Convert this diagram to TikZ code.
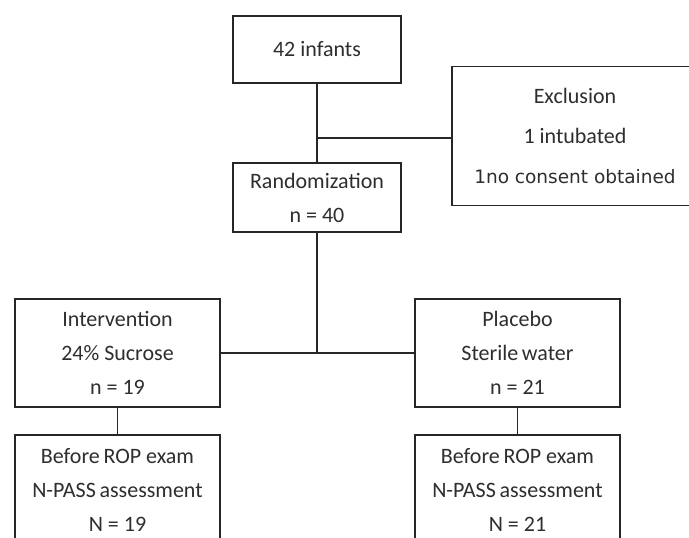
\documentclass[tikz,border=0pt]{standalone}
\usepackage{fontspec}
\setmainfont{Carlito}
\newfontfamily\dejavu{DejaVu Sans}
\usetikzlibrary{positioning}

\begin{document}
\begin{tikzpicture}
[x=1pt,y=-1pt,
  boxDecorate/.style={shape=rectangle,draw=black!85,line width=1.8pt,inner sep=0pt,
    align=center,text=black!82,font=\fontsize{22}{34}\selectfont},
  lineDecorate/.style={-,draw=black!85,line width=1.8pt}]
\useasboundingbox (0,0) rectangle (689,538);
\fill[white] (0,0) rectangle (689,538);
\clip (0,0) rectangle (689,538);
%% boxes
\node (infants) at (317,49.5) [boxDecorate,minimum width=168pt,minimum height=67pt] {42 infants};
\node (rand) at (317,197.5) [boxDecorate,minimum width=168pt,minimum height=69pt]
  {Randomization\\n = 40};
\node (excl) at (575,136) [boxDecorate,minimum width=246pt,minimum height=139pt,
  font=\fontsize{22}{40}\selectfont]
  {Exclusion\\1 intubated\\{\dejavu\fontsize{18.5}{40}\selectfont 1no consent obtained}};
\node (interv) at (117.5,353) [boxDecorate,minimum width=205pt,minimum height=108pt]
  {Intervention\\24\% Sucrose\\n = 19};
\node (placebo) at (517.5,353) [boxDecorate,minimum width=205pt,minimum height=108pt]
  {Placebo\\Sterile\,water\\n = 21};
\node (beforeA) at (117.5,490) [boxDecorate,minimum width=205pt,minimum height=110pt]
  {Before\,ROP exam\\N-PASS\,assessment\\N = 19};
\node (beforeB) at (517.5,490) [boxDecorate,minimum width=205pt,minimum height=110pt]
  {Before\,ROP exam\\N-PASS\,assessment\\N = 21};
%% junctions
\coordinate (jExcl) at (317,138);
\coordinate (jArms) at (317,353);
%% edges or lines
\path
\foreach \startnode/\endnode in {infants/rand, rand/jArms, jArms/interv, jArms/placebo,
  interv/beforeA, placebo/beforeB}
{
  (\startnode) edge[lineDecorate] (\endnode)
};
\draw[lineDecorate] (jExcl) -- (jExcl -| excl.west);
\end{tikzpicture}
\end{document}
